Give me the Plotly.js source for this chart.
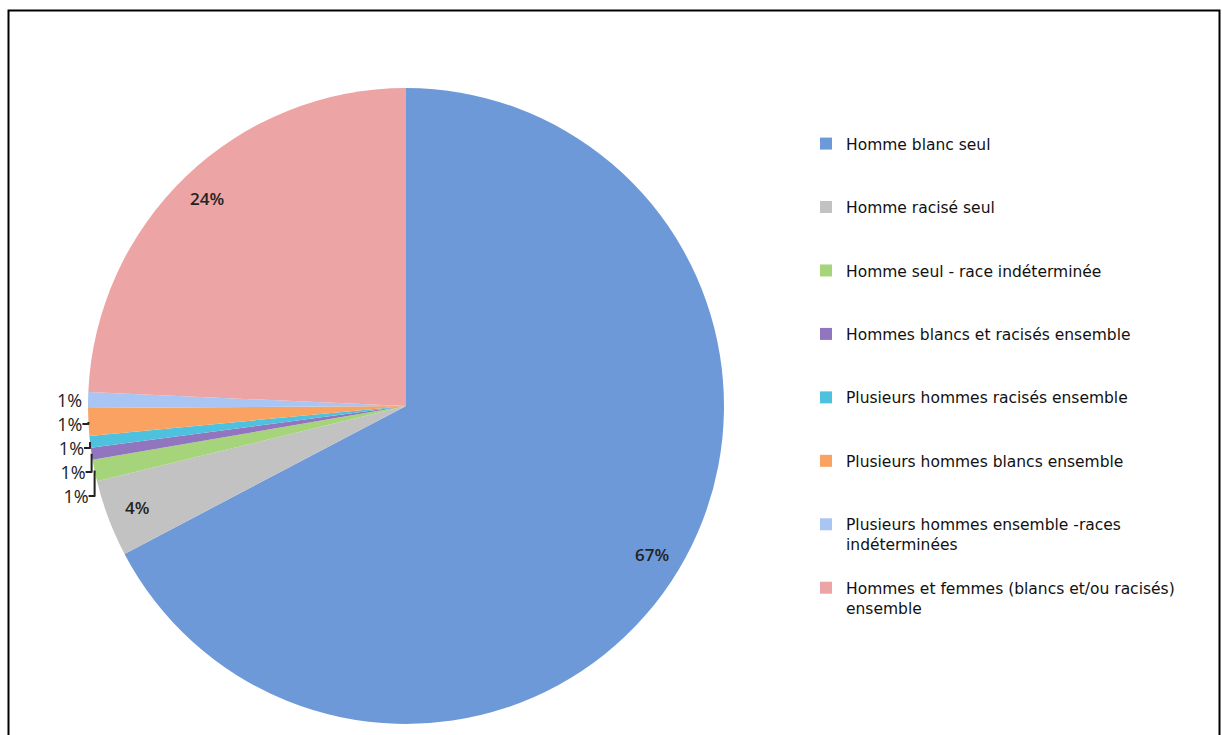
<!DOCTYPE html>
<html>
<head>
<meta charset="utf-8">
<script src="https://cdn.plot.ly/plotly-3.0.1.min.js"></script>
<style>html,body{margin:0;padding:0;background:#fff;}#chart{width:1222px;height:735px;}</style>
</head>
<body>
<div id="chart"></div>
<script>
const categories = [
  "Homme blanc seul",
  "Homme racisé seul",
  "Homme seul - race indéterminée",
  "Hommes blancs et racisés ensemble",
  "Plusieurs hommes racisés ensemble",
  "Plusieurs hommes blancs ensemble",
  "Plusieurs hommes ensemble -races indéterminées",
  "Hommes et femmes (blancs et/ou racisés) ensemble"
];
const legendLines = [
  ["Homme blanc seul"],
  ["Homme racisé seul"],
  ["Homme seul - race indéterminée"],
  ["Hommes blancs et racisés ensemble"],
  ["Plusieurs hommes racisés ensemble"],
  ["Plusieurs hommes blancs ensemble"],
  ["Plusieurs hommes ensemble -races", "indéterminées"],
  ["Hommes et femmes (blancs et/ou racisés)", "ensemble"]
];
const shares = [67.3, 3.9, 1.1, 0.6, 0.6, 1.4, 0.8, 24.3];
const colors = ["#6e99d8", "#c2c2c2", "#a6d47a", "#9175be", "#4ec1df", "#f9a261", "#a9c5f4", "#eca4a4"];

const labels = legendLines.map(l => {
  const lines = l.slice();
  while (lines.length < 3) lines.push("&nbsp;");
  return lines.join("<br>");
});
const isBig = shares.map(v => v >= 3);
const positions = isBig.map(b => b ? "none" : "outside");

const W = 1222, H = 735;
const cx = 406, cy = 406, r = 318;

const total = shares.reduce((a, b) => a + b, 0);
let cum = 0;
const annotations = [];
shares.forEach((v, i) => {
  const mid = (cum + v / 2) / total * 2 * Math.PI;
  cum += v;
  if (!isBig[i]) return;
  const px = cx + 0.905 * r * Math.sin(mid);
  const py = cy - 0.905 * r * Math.cos(mid);
  annotations.push({
    xref: "paper", yref: "paper",
    x: px / W, y: 1 - py / H,
    xanchor: "center", yanchor: "middle",
    text: Math.round(v / total * 100) + "%",
    showarrow: false,
    font: {family: "Open Sans, sans-serif", size: 17, color: "#222", weight: 600}
  });
});

const data = [{
  type: "pie",
  labels: labels,
  values: shares,
  sort: false,
  direction: "clockwise",
  rotation: 0,
  marker: {colors: colors, line: {width: 0}},
  textposition: positions,
  texttemplate: "%{percent:.0%}",
  outsidetextfont: {family: "Open Sans, sans-serif", size: 18, color: "#222"},
  hoverinfo: "label+percent",
  domain: {x: [(cx - r) / W, (cx + r) / W], y: [(H - cy - r) / H, (H - cy + r) / H]},
  automargin: false
}];

const layout = {
  width: W, height: H,
  margin: {l: 0, r: 0, t: 0, b: 0},
  paper_bgcolor: "#fff",
  showlegend: true,
  legend: {
    x: 806 / W, xanchor: "left",
    y: (H - 127) / H, yanchor: "top",
    valign: "top",
    font: {family: "DejaVu Sans, sans-serif", size: 15.5, color: "#111"},
    bgcolor: "rgba(0,0,0,0)"
  },
  annotations: annotations,
  shapes: [{
    type: "rect", xref: "paper", yref: "paper",
    x0: 8.5 / W, x1: 1219.5 / W, y0: -0.05, y1: (H - 10.5) / H,
    line: {color: "#000", width: 2}, fillcolor: "rgba(0,0,0,0)"
  }]
};

Plotly.newPlot("chart", data, layout, {displayModeBar: false, staticPlot: true});
</script>
</body>
</html>
